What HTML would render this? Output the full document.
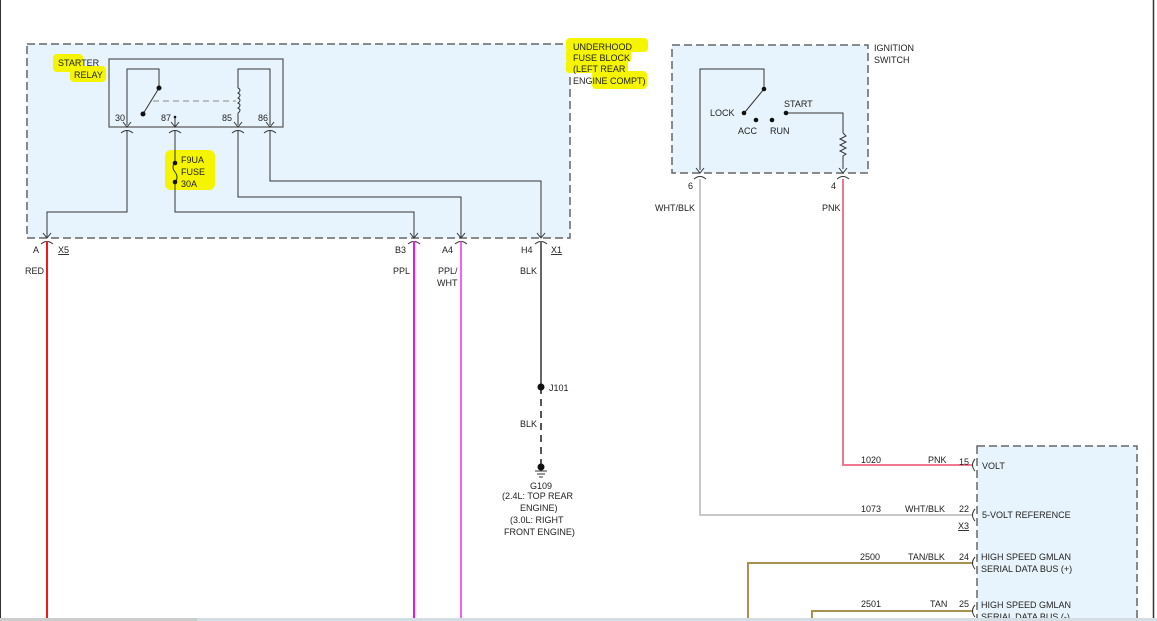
<!DOCTYPE html>
<html><head><meta charset="utf-8"><style>
html,body{margin:0;padding:0;background:#fff;}
svg{display:block;}
text{font-family:"Liberation Sans",Arial,sans-serif;font-size:9px;fill:#222;}
</style></head><body>
<svg width="1157" height="621" viewBox="0 0 1157 621" xmlns="http://www.w3.org/2000/svg">
<rect x="0" y="0" width="1157" height="621" fill="#fff"/>
<line x1="0.5" y1="0" x2="0.5" y2="618" stroke="#333" stroke-width="1"/>
<line x1="1153.5" y1="0" x2="1153.5" y2="618" stroke="#333" stroke-width="1.5"/>

<!-- boxes -->
<rect x="27" y="44" width="543" height="194" fill="#e8f4fd" stroke="#666" stroke-width="1.5" stroke-dasharray="8,4"/>
<rect x="672" y="45" width="196" height="128" fill="#e8f4fd" stroke="#666" stroke-width="1.5" stroke-dasharray="8,4"/>
<rect x="977" y="446" width="160" height="180" fill="#e8f4fd" stroke="#666" stroke-width="1.5" stroke-dasharray="8,4"/>

<!-- highlights -->
<g fill="#f5f500">
<rect x="53" y="54" width="30" height="18" rx="4"/>
<rect x="70" y="66" width="36" height="16" rx="4"/>
<rect x="566" y="38" width="82" height="14" rx="4"/>
<rect x="566" y="49" width="65" height="13" rx="3"/>
<rect x="566" y="60" width="62" height="13" rx="3"/>
<rect x="592" y="71" width="55" height="18" rx="4"/>
<rect x="165" y="150" width="50" height="40" rx="6"/>
</g>

<rect x="109" y="59" width="174" height="68" fill="none" stroke="#555" stroke-width="1.2"/>

<!-- relay internals -->
<g stroke="#333" stroke-width="1" fill="none">
<polyline points="127,125 127,69 159,69 159,88"/>
<line x1="159" y1="88" x2="143" y2="114"/>
<polyline points="238,125 238,113"/>
<path d="M238,88 q4,2 0,5 q4,2 0,5 q4,2 0,5 q4,2 0,5 q4,2 0,5"/>
<polyline points="238,88 238,69 270,69 270,125"/>
<line x1="153" y1="101" x2="236" y2="101" stroke="#888" stroke-dasharray="6,4"/>
<line x1="175" y1="117" x2="175" y2="127"/>
<polyline points="127,131 127,212 47,212 47,238"/>
<polyline points="175,131 175,162"/>
<path d="M175,162 q-4,5 0,10 q4,5 0,11"/>
<polyline points="175,183 175,212 414,212 414,238"/>
<polyline points="238,131 238,197 461,197 461,238"/>
<polyline points="270,131 270,181 541,181 541,238"/>
</g>
<g fill="#111">
<circle cx="159" cy="88" r="2.5"/><circle cx="143" cy="114" r="2.5"/>
<circle cx="175" cy="117" r="1.3"/>
<circle cx="175" cy="163" r="2.3"/><circle cx="175" cy="182" r="2.3"/>
</g>
<g stroke="#333" stroke-width="1" fill="none">
<path d="M123,122 l4,5 l4,-5 M121,133 q6,-5 12,0"/>
<path d="M171,122 l4,5 l4,-5 M169,133 q6,-5 12,0"/>
<path d="M234,122 l4,5 l4,-5 M232,133 q6,-5 12,0"/>
<path d="M266,122 l4,5 l4,-5 M264,133 q6,-5 12,0"/>
<path d="M43,233 l4,5 l4,-5 M41,244 q6,-5 12,0"/>
<path d="M410,233 l4,5 l4,-5 M408,244 q6,-5 12,0"/>
<path d="M457,233 l4,5 l4,-5 M455,244 q6,-5 12,0"/>
<path d="M537,233 l4,5 l4,-5 M535,244 q6,-5 12,0"/>
<path d="M696,168 l4,5 l4,-5 M694,179 q6,-5 12,0"/>
<path d="M839,168 l4,5 l4,-5 M837,179 q6,-5 12,0"/>
</g>
<text x="115" y="121">30</text><text x="161" y="121">87</text>
<text x="222" y="121">85</text><text x="258" y="121">86</text>
<text x="58" y="66">STARTER</text><text x="74" y="78">RELAY</text>
<text x="181" y="163">F9UA</text><text x="181" y="175">FUSE</text><text x="181" y="187">30A</text>
<text x="573" y="50">UNDERHOOD</text><text x="573" y="61">FUSE BLOCK</text>
<text x="573" y="72">(LEFT REAR</text><text x="573" y="84">ENGINE COMPT)</text>

<line x1="47" y1="241" x2="47" y2="621" stroke="#f01818" stroke-width="2"/>
<line x1="414" y1="241" x2="414" y2="621" stroke="#f010f0" stroke-width="2"/>
<line x1="461" y1="241" x2="461" y2="621" stroke="#f030f0" stroke-width="1.5"/>
<line x1="541" y1="241" x2="541" y2="387" stroke="#666" stroke-width="2"/>
<line x1="541" y1="387" x2="541" y2="465" stroke="#555" stroke-width="2" stroke-dasharray="7,5"/>
<circle cx="541" cy="387" r="3.5" fill="#111"/>
<circle cx="541" cy="467" r="3.5" fill="#111"/>
<g stroke="#333"><line x1="535" y1="471" x2="547" y2="471"/><line x1="537" y1="474" x2="545" y2="474"/><line x1="539" y1="477" x2="543" y2="477"/></g>
<text x="33" y="253">A</text><text x="58" y="253" text-decoration="underline">X5</text>
<text x="25" y="274">RED</text>
<text x="395" y="253">B3</text><text x="442" y="253">A4</text>
<text x="521" y="253">H4</text><text x="551" y="253" text-decoration="underline">X1</text>
<text x="393" y="274">PPL</text><text x="438" y="274">PPL/</text><text x="437" y="286">WHT</text>
<text x="520" y="274">BLK</text>
<text x="549" y="391">J101</text>
<text x="520" y="427">BLK</text>
<text x="530" y="489">G109</text>
<text x="502" y="499">(2.4L: TOP REAR</text>
<text x="520" y="511">ENGINE)</text>
<text x="510" y="523">(3.0L: RIGHT</text>
<text x="504" y="535">FRONT ENGINE)</text>

<g stroke="#333" stroke-width="1" fill="none">
<polyline points="700,170 700,69 764,69 764,89"/>
<line x1="764" y1="89" x2="745" y2="112"/>
<polyline points="786,113 843,113 843,133"/>
<path d="M843,133 l3,3 l-6,3 l6,3 l-6,3 l6,3 l-6,3 l6,3 l-3,2 l0,13"/>
</g>
<g fill="#111">
<circle cx="764" cy="89" r="2.3"/><circle cx="744" cy="113" r="2.3"/>
<circle cx="756" cy="120" r="2.3"/><circle cx="772" cy="120" r="2.3"/>
<circle cx="786" cy="113" r="2.3"/>
</g>
<text x="710" y="116">LOCK</text><text x="738" y="134">ACC</text><text x="770" y="134">RUN</text>
<text x="784" y="107">START</text>
<text x="874" y="51">IGNITION</text><text x="874" y="63">SWITCH</text>
<text x="688" y="189">6</text><text x="831" y="189">4</text>
<text x="655" y="211">WHT/BLK</text><text x="822" y="211">PNK</text>

<polyline points="843,179 843,465 972,465" fill="none" stroke="#f07890" stroke-width="2"/>
<polyline points="700,179 700,515 972,515" fill="none" stroke="#c8c8c8" stroke-width="2"/>
<polyline points="748,621 748,563 972,563" fill="none" stroke="#a89050" stroke-width="2"/>
<polyline points="812,621 812,611 972,611" fill="none" stroke="#a89050" stroke-width="2"/>
<g stroke="#333" fill="none">
<path d="M975,459 q-5,6 0,12"/><path d="M975,509 q-5,6 0,12"/>
<path d="M975,557 q-5,6 0,12"/><path d="M975,605 q-5,6 0,12"/>
</g>
<text x="861" y="463">1020</text><text x="928" y="463">PNK</text><text x="959" y="465">15</text>
<text x="861" y="512">1073</text><text x="905" y="512">WHT/BLK</text><text x="959" y="512">22</text>
<text x="958" y="529" text-decoration="underline">X3</text>
<text x="860" y="560">2500</text><text x="908" y="560">TAN/BLK</text><text x="959" y="560">24</text>
<text x="861" y="607">2501</text><text x="930" y="607">TAN</text><text x="959" y="607">25</text>
<text x="982" y="469">VOLT</text>
<text x="982" y="518">5-VOLT REFERENCE</text>
<text x="981" y="560">HIGH SPEED GMLAN</text><text x="981" y="572">SERIAL DATA BUS (+)</text>
<text x="981" y="608">HIGH SPEED GMLAN</text><text x="981" y="620">SERIAL DATA BUS (-)</text>
<rect x="0" y="618" width="197" height="3" fill="#ccc"/>
<rect x="197" y="618" width="960" height="3" fill="#d3dde4"/>
</svg>
</body></html>
